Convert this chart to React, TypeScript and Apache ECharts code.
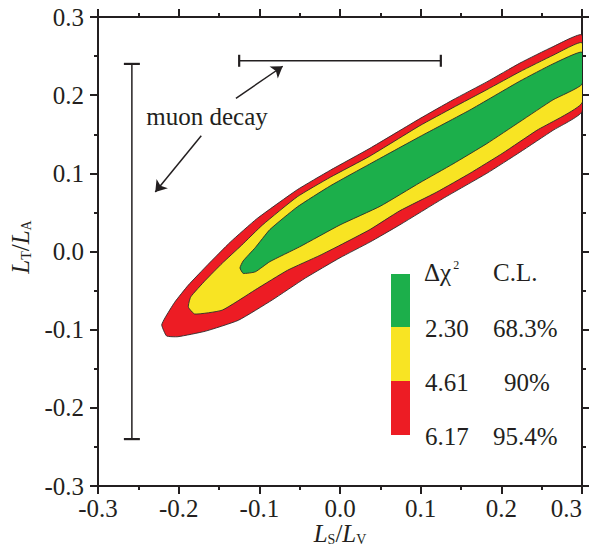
import { useEffect, useRef } from 'react';
import * as echarts from 'echarts';

// ---- Data ----
const axisMin = -0.3;
const axisMax = 0.3;
const axisStep = 0.1;

// 95.4% C.L. contour (outer, red)
const redX = [-0.221, -0.217, -0.205, -0.188, -0.164, -0.136, -0.103, -0.053, -0.012, 0.037, 0.099, 0.140, 0.182, 0.223, 0.264, 0.300, 0.300, 0.264, 0.223, 0.182, 0.128, 0.074, 0.037, 0.000, -0.043, -0.084, -0.126, -0.167, -0.201, -0.215];
const redY = [-0.094, -0.085, -0.065, -0.043, -0.017, 0.012, 0.042, 0.079, 0.104, 0.132, 0.170, 0.194, 0.217, 0.241, 0.262, 0.277, 0.179, 0.155, 0.127, 0.100, 0.068, 0.034, 0.012, -0.008, -0.034, -0.062, -0.088, -0.102, -0.109, -0.108];

// 90% C.L. contour (yellow)
const yellowX = [-0.188, -0.185, -0.167, -0.146, -0.122, -0.096, -0.053, -0.012, 0.037, 0.099, 0.140, 0.182, 0.223, 0.264, 0.300, 0.300, 0.244, 0.202, 0.161, 0.120, 0.074, 0.037, 0.000, -0.025, -0.065, -0.105, -0.146, -0.180];
const yellowY = [-0.071, -0.058, -0.037, -0.015, 0.008, 0.034, 0.070, 0.095, 0.122, 0.161, 0.184, 0.207, 0.230, 0.251, 0.267, 0.190, 0.155, 0.126, 0.100, 0.076, 0.052, 0.028, 0.008, -0.005, -0.024, -0.049, -0.075, -0.080];

// 68.3% C.L. contour (inner, green)
const greenX = [-0.124, -0.120, -0.105, -0.087, -0.053, -0.012, 0.037, 0.099, 0.161, 0.223, 0.264, 0.300, 0.300, 0.264, 0.223, 0.182, 0.140, 0.099, 0.050, 0.000, -0.050, -0.087, -0.105, -0.120];
const greenY = [-0.021, -0.012, 0.005, 0.028, 0.057, 0.084, 0.112, 0.147, 0.181, 0.218, 0.240, 0.255, 0.214, 0.194, 0.166, 0.138, 0.112, 0.088, 0.058, 0.034, 0.006, -0.013, -0.026, -0.028];

// Muon decay ranges
const muonVertX = -0.258;
const muonVertRange = [-0.24, 0.24];
const muonHorizY = 0.244;
const muonHorizRange = [-0.125, 0.125];

// Annotation arrows (start -> tip) in data units
const arrowStarts = [[-0.172, 0.148], [-0.129, 0.196]];
const arrowTips = [[-0.229, 0.076], [-0.071, 0.237]];

// Legend
const legendChi2 = ['2.30', '4.61', '6.17'];
const legendCL = ['68.3%', '90%', '95.4%'];
const legendColors = ['#1CAF4B', '#F8E423', '#ED1C24'];

const INK = '#231f20';
const FONT = '"Liberation Serif", "Times New Roman", serif';
const FS = 25;

function polygonSeries(xs: number[], ys: number[], color: string, z: number) {
  return {
    type: 'custom',
    xAxisIndex: 0,
    yAxisIndex: 0,
    silent: true,
    clip: true,
    z,
    data: [[xs[0], ys[0]]],
    renderItem: (_params: any, api: any) => {
      const pts = xs.map((x, i) => api.coord([x, ys[i]]));
      return {
        type: 'polygon',
        shape: { points: pts, smooth: 0.15 },
        style: { fill: color, stroke: '#2b2b2b', lineWidth: 0.9 },
      };
    },
  };
}

export default function App() {
  const ref = useRef<HTMLDivElement>(null);

  useEffect(() => {
    const chart = echarts.init(ref.current!, null, { renderer: 'svg', width: 589, height: 550 });

    const fmt = (v: number) => v.toFixed(1);
    const axisCommon = {
      type: 'value',
      min: axisMin,
      max: axisMax,
      interval: axisStep,
      axisLine: { show: true, onZero: false, lineStyle: { color: INK, width: 2 } },
      axisTick: { show: true, inside: false, length: 8, lineStyle: { color: INK, width: 2 } },
      minorTick: { show: true, splitNumber: 2, length: 4, lineStyle: { color: INK, width: 2 } },
      splitLine: { show: false },
      minorSplitLine: { show: false },
    };
    const labelStyle = { fontFamily: FONT, fontSize: FS, color: INK, formatter: fmt };

    const subRich = {
      i: { fontFamily: FONT, fontSize: FS, fontStyle: 'italic', fill: INK, color: INK, verticalAlign: 'bottom', lineHeight: 22 },
      n: { fontFamily: FONT, fontSize: FS, fill: INK, color: INK, verticalAlign: 'bottom', lineHeight: 22 },
      s: { fontFamily: FONT, fontSize: 14, fill: INK, color: INK, verticalAlign: 'bottom', lineHeight: 12 },
    };

    const legendGraphics: any[] = [];
    const boxTop = [274, 327, 381];
    const boxH = [53, 54, 54];
    legendColors.forEach((c, i) => {
      legendGraphics.push({
        type: 'rect',
        shape: { x: 391, y: boxTop[i], width: 19, height: boxH[i] },
        style: { fill: c },
        silent: true,
      });
    });
    const rowY = [328, 382, 436.5];
    legendChi2.forEach((t, i) => {
      legendGraphics.push({
        type: 'text', x: 425, y: rowY[i],
        style: { text: t, font: `${FS}px ${FONT}`, fill: INK, align: 'left', verticalAlign: 'middle' },
        silent: true,
      });
      const isShort = t === '4.61';
      legendGraphics.push({
        type: 'text', x: isShort ? 527 : 493, y: rowY[i],
        style: { text: legendCL[i], font: `${FS}px ${FONT}`, fill: INK, align: isShort ? 'center' : 'left', verticalAlign: 'middle' },
        silent: true,
      });
    });
    legendGraphics.push({
      type: 'text', x: 424, y: 272,
      style: {
        text: '{n|Δχ}{p|2}',
        align: 'left', verticalAlign: 'middle',
        rich: {
          n: { fontFamily: FONT, fontSize: FS, fill: INK, verticalAlign: 'bottom', lineHeight: 26 },
          p: { fontFamily: FONT, fontSize: 12, fill: INK, verticalAlign: 'top', lineHeight: 12, padding: [0, 0, 0, 2] },
        },
      },
      silent: true,
    });
    legendGraphics.push({
      type: 'text', x: 493, y: 272,
      style: { text: 'C.L.', font: `${FS}px ${FONT}`, fill: INK, align: 'left', verticalAlign: 'middle' },
      silent: true,
    });

    const option: any = {
      animation: false,
      backgroundColor: '#ffffff',
      grid: { left: 98, right: 7, top: 17, bottom: 64, containLabel: false, outerBoundsMode: 'none' },
      xAxis: [
        { ...axisCommon, position: 'bottom', axisLabel: { ...labelStyle, margin: 10, alignMaxLabel: 'right' } },
        { ...axisCommon, position: 'top', axisLabel: { show: false } },
      ],
      yAxis: [
        { ...axisCommon, position: 'left', axisLabel: { ...labelStyle, margin: 14 } },
        { ...axisCommon, position: 'right', axisLabel: { show: false } },
      ],
      series: [
        polygonSeries(redX, redY, legendColors[2], 2),
        polygonSeries(yellowX, yellowY, legendColors[1], 3),
        polygonSeries(greenX, greenY, legendColors[0], 4),
        {
          type: 'custom',
          xAxisIndex: 0,
          yAxisIndex: 0,
          silent: true,
          z: 5,
          data: [[muonVertX, muonHorizY]],
          renderItem: (_p: any, api: any) => {
            const vb = api.coord([muonVertX, muonVertRange[0]]);
            const vt = api.coord([muonVertX, muonVertRange[1]]);
            const hl = api.coord([muonHorizRange[0], muonHorizY]);
            const hr = api.coord([muonHorizRange[1], muonHorizY]);
            const thin = { stroke: INK, lineWidth: 1.5 };
            const cap = { stroke: INK, lineWidth: 2.2 };
            return {
              type: 'group',
              children: [
                { type: 'line', shape: { x1: vb[0], y1: vb[1], x2: vt[0], y2: vt[1] }, style: thin },
                { type: 'line', shape: { x1: vt[0] - 8, y1: vt[1], x2: vt[0] + 8, y2: vt[1] }, style: cap },
                { type: 'line', shape: { x1: vb[0] - 8, y1: vb[1], x2: vb[0] + 8, y2: vb[1] }, style: cap },
                { type: 'line', shape: { x1: hl[0], y1: hl[1], x2: hr[0], y2: hr[1] }, style: thin },
                { type: 'line', shape: { x1: hl[0], y1: hl[1] - 6, x2: hl[0], y2: hl[1] + 6 }, style: cap },
                { type: 'line', shape: { x1: hr[0], y1: hr[1] - 6, x2: hr[0], y2: hr[1] + 6 }, style: cap },
              ],
            };
          },
        },
        {
          type: 'lines',
          coordinateSystem: 'cartesian2d',
          xAxisIndex: 0,
          yAxisIndex: 0,
          silent: true,
          z: 6,
          symbol: ['none', 'arrow'],
          symbolSize: 11,
          lineStyle: { color: INK, width: 1.5, opacity: 1, curveness: 0 },
          data: arrowStarts.map((s, i) => ({ coords: [s, arrowTips[i]] })),
        },
      ],
      graphic: [
        ...legendGraphics,
        {
          type: 'text', x: 207, y: 116,
          style: { text: 'muon decay', font: `${FS}px ${FONT}`, fill: INK, align: 'center', verticalAlign: 'middle' },
          silent: true,
        },
        {
          type: 'text', x: 340, y: 535,
          style: { text: '{i|L}{s|S}{n|/}{i|L}{s|V}', align: 'center', verticalAlign: 'middle', rich: subRich },
          silent: true,
        },
        {
          type: 'text', x: 22, y: 247, rotation: Math.PI / 2,
          style: { text: '{i|L}{s|T}{n|/}{i|L}{s|A}', align: 'center', verticalAlign: 'middle', rich: subRich },
          silent: true,
        },
      ],
    };

    chart.setOption(option);
    return () => chart.dispose();
  }, []);

  return (
    <div
      ref={ref}
      style={{ position: 'fixed', left: 0, top: 0, width: 589, height: 550, background: '#fff' }}
    />
  );
}
